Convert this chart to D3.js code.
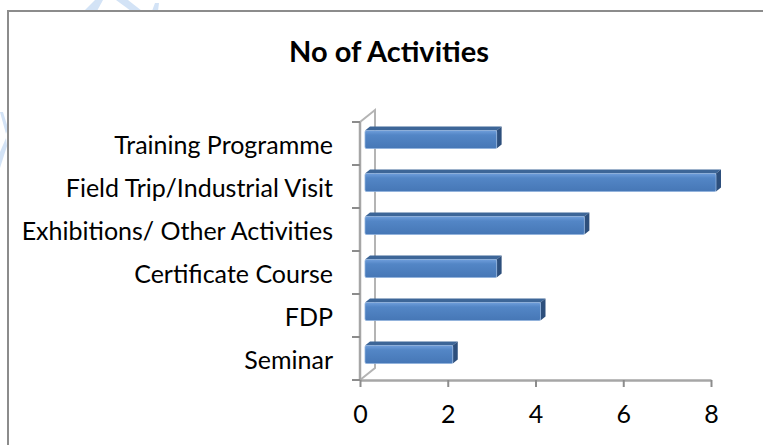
<!DOCTYPE html>
<html>
<head>
<meta charset="utf-8">
<script src="https://cdn.jsdelivr.net/npm/d3@7"></script>
<style>
  body { margin: 0; background: #fff; }
  text { font-family: Lato, "Open Sans", sans-serif; fill: #000; }
  .title { font-weight: bold; font-size: 29px; }
  .label { font-size: 25px; }
  .tick-label { font-size: 25px; }
</style>
</head>
<body>
<div id="chart"></div>
<script>
var categories = ["Training Programme", "Field Trip/Industrial Visit", "Exhibitions/ Other Activities",
                  "Certificate Course", "FDP", "Seminar"];
var values = [3, 8, 5, 3, 4, 2];
var tickValues = [0, 2, 4, 6, 8];
var titleText = "No of Activities";

var width = 763, height = 445;
var depth = {x: 15, y: -12};   // wall depth (3d offset)
var svg, x, y;

svg = d3.select("#chart")
  .append("svg")
  .attr("width", width)
  .attr("height", height);

var defs = svg.append("defs");
var grad = defs.append("linearGradient")
  .attr("id", "barFront")
  .attr("x1", 0).attr("y1", 0).attr("x2", 0).attr("y2", 1);
grad.append("stop").attr("offset", "0%").attr("stop-color", "#6f9edb");
grad.append("stop").attr("offset", "25%").attr("stop-color", "#5386c6");
grad.append("stop").attr("offset", "100%").attr("stop-color", "#4677b6");

// faint watermark bits
var wm = svg.append("g").attr("fill", "#d3e3f6");
wm.append("path").attr("d", "M84,11 L95,0 L103,0 L97,11 Z");
wm.append("path").attr("d", "M116,0 L128,0 L142,11 L131,11 Z");
wm.append("path").attr("d", "M152,11 L155,3 L159,3 L158,11 Z");
wm.append("path").attr("d", "M0,112 L3,112 L8,128 L6,134 Z");
wm.append("path").attr("d", "M0,152 L6,138 L7,146 L0,168 Z");

// chart border (top + left)
svg.append("path")
  .attr("d", "M8," + height + " L8,11 L" + width + ",11")
  .attr("fill", "none")
  .attr("stroke", "#8c8c8c")
  .attr("stroke-width", 2);

// title
svg.append("text")
  .attr("class", "title")
  .attr("x", 389)
  .attr("y", 62)
  .attr("text-anchor", "middle")
  .text(titleText);

// scales
x = d3.scaleLinear()
  .domain([0, 8])
  .range([360, 711]);

y = d3.scaleBand()
  .domain(categories)
  .range([122, 380]);

// left wall outline
var wall = svg.append("g")
  .attr("fill", "none")
  .attr("stroke", "#b4b4b4")
  .attr("stroke-width", 2);
wall.append("path")
  .attr("d", "M" + x(0) + ",380 L" + (x(0) + depth.x) + "," + (380 + depth.y) +
             " L" + (x(0) + depth.x) + "," + (122 + depth.y) +
             " L" + x(0) + ",122");

// x axis
svg.append("g")
  .attr("class", "x axis")
  .attr("transform", "translate(0,380)")
  .call(d3.axisBottom(x)
    .tickValues(tickValues)
    .tickSizeInner(7)
    .tickSizeOuter(0)
    .tickPadding(18)
    .tickFormat(d3.format("d")))
  .call(function(g) {
    g.select(".domain").attr("stroke", "#a6a6a6").attr("stroke-width", 2.5);
    g.selectAll(".tick line").attr("stroke", "#8c8c8c").attr("stroke-width", 2);
    g.selectAll(".tick text")
      .attr("class", "tick-label")
      .attr("font-size", null)
      .attr("font-family", null)
      .attr("fill", "#000");
  });

// y axis (ticks on band edges)
var yEdges = categories.map(function(c) { return y(c); }).concat([380]);
var yAxis = svg.append("g").attr("class", "y axis");
yAxis.append("line")
  .attr("x1", x(0)).attr("x2", x(0))
  .attr("y1", 122).attr("y2", 380)
  .attr("stroke", "#a6a6a6")
  .attr("stroke-width", 2.5);
yAxis.selectAll(".ytick")
  .data(yEdges)
  .enter()
  .append("line")
  .attr("class", "ytick")
  .attr("x1", x(0) - 8).attr("x2", x(0))
  .attr("y1", function(d) { return d; })
  .attr("y2", function(d) { return d; })
  .attr("stroke", "#8c8c8c")
  .attr("stroke-width", 2);

yAxis.selectAll(".label")
  .data(categories)
  .enter()
  .append("text")
  .attr("class", "label")
  .attr("x", 333)
  .attr("y", function(d) { return y(d) + y.bandwidth() / 2 + 2; })
  .attr("dy", "0.35em")
  .attr("text-anchor", "end")
  .text(function(d) { return d; });

// bars (3d: front, top, side)
var barH = 18;
var off = {x: 5, y: -4};   // bar sits in middle of the depth
var bd = {x: 5, y: -4};    // bar depth

var bars = svg.selectAll(".bar")
  .data(categories)
  .enter()
  .append("g")
  .attr("class", "bar");

bars.each(function(c, i) {
  var g = d3.select(this);
  var x0 = x(0) + off.x;
  var x1 = x(values[i]) + off.x;
  var yt = y(c) + y.bandwidth() / 2 + off.y - barH / 2;
  var yb = yt + barH;

  // top face
  g.append("path")
    .attr("d", "M" + x0 + "," + yt + " L" + (x0 + bd.x) + "," + (yt + bd.y) +
               " L" + (x1 + bd.x) + "," + (yt + bd.y) + " L" + x1 + "," + yt + " Z")
    .attr("fill", "#3d6698");
  // side face
  g.append("path")
    .attr("d", "M" + x1 + "," + yt + " L" + (x1 + bd.x) + "," + (yt + bd.y) +
               " L" + (x1 + bd.x) + "," + (yb + bd.y) + " L" + x1 + "," + yb + " Z")
    .attr("fill", "#2d4f7c");
  // front face
  g.append("rect")
    .attr("x", x0)
    .attr("y", yt)
    .attr("width", x1 - x0)
    .attr("height", barH)
    .attr("rx", 1.5)
    .attr("fill", "url(#barFront)")
    .attr("stroke", "#8fb1dc")
    .attr("stroke-width", 0.8);
});
</script>
</body>
</html>
